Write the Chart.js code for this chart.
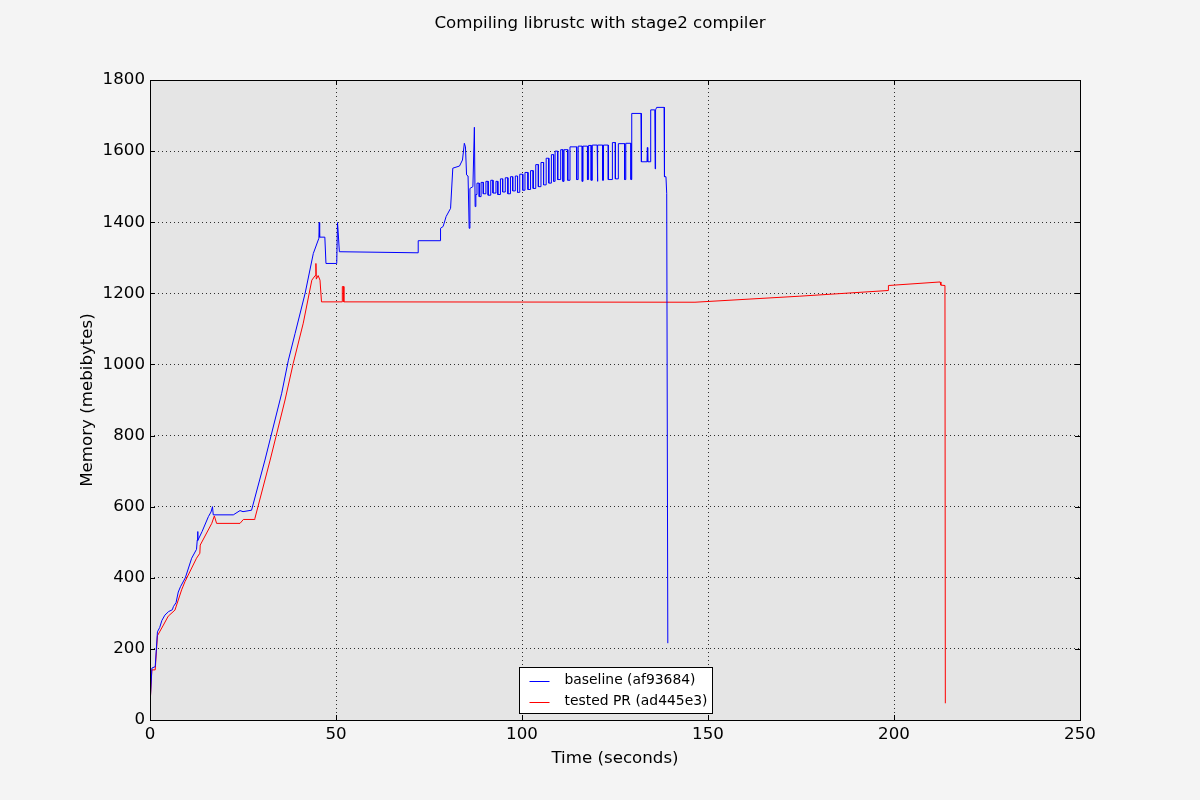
<!DOCTYPE html>
<html>
<head>
<meta charset="utf-8">
<script src="https://cdn.jsdelivr.net/npm/chart.js@4/dist/chart.umd.min.js"></script>
<style>
  html, body { margin: 0; padding: 0; background: #f4f4f4; }
  #wrap { width: 1200px; height: 800px; }
</style>
</head>
<body>
<div id="wrap"><canvas id="mem" width="1200" height="800"></canvas></div>
<script>
// Memory usage while compiling librustc
const chartTitle = 'Compiling librustc with stage2 compiler';
const xTitle = 'Time (seconds)';
const yTitle = 'Memory (mebibytes)';
const seriesNames = ['baseline (af93684)', 'tested PR (ad445e3)'];
const xTicks = [0, 50, 100, 150, 200, 250];
const yTicks = [0, 200, 400, 600, 800, 1000, 1200, 1400, 1600, 1800];

// baseline: time (s) / memory (MiB)
const baseTime = [
  0, 0.5, 1.4, 2.0, 2.6, 3.2, 4.0, 5.0, 6.0, 6.3, 7.0, 7.6, 8.2, 9.5, 11.2, 12.5, 12.7, 12.8, 12.9, 14.0,
  15.7, 16.4, 16.8, 17.0, 22.4, 24.2, 25.0, 27.3, 30.9, 35.4, 37.2, 39.0, 41.7, 43.9, 45.4, 45.5, 45.6, 47.0,
  47.3, 50.2, 50.4, 50.6, 50.9, 72.1, 72.1, 78.0, 78.1, 78.8, 79.6, 80.8, 81.4, 83.2, 84.0, 84.5, 84.8, 85.1,
  85.5, 85.8, 86.0, 86.8, 87.2, 87.4, 87.6,
  87.9, 87.9, 88.5, 88.5, 89.0, 89.0, 89.6, 89.6, 90.3, 90.3, 90.9, 90.9, 91.6, 91.6, 92.2, 92.2, 93.0, 93.0,
  93.5, 93.5, 94.2, 94.2, 94.8, 94.8, 95.5, 95.5, 96.2, 96.2, 96.9, 96.9, 97.5, 97.5, 98.2, 98.2, 98.8, 98.8,
  99.4, 99.4, 100.2, 100.2, 100.8, 100.8, 101.6, 101.6, 102.3, 102.3, 103.0, 103.0, 103.7, 103.7, 104.4, 104.4,
  105.1, 105.1, 105.8, 105.8, 106.5, 106.5, 107.2, 107.2, 107.9, 107.9, 108.5, 108.5, 108.9, 108.9, 109.6, 109.6,
  110.4, 110.4, 111.0, 111.0, 111.3, 111.3, 112.3, 112.3, 112.9, 112.9, 114.7, 114.7, 115.1, 115.1, 116.2, 116.2,
  116.4, 116.4, 117.6, 117.6, 117.9, 117.9, 118.6, 118.6, 118.9, 118.9, 120.2, 120.2, 120.4, 120.4, 121.7, 121.7,
  121.9, 121.9, 123.2, 123.2, 124.3, 124.3, 125.1, 125.1, 125.9, 125.9, 127.6, 127.6, 127.9, 127.9, 129.3, 129.3,
  129.5, 129.5, 132.0, 132.1, 133.6, 133.7, 133.8, 134.6, 134.6, 135.7, 135.8, 135.9, 136.2, 138.2, 138.3, 138.7,
  138.9, 139.2
];
const baseMem = [
  40, 146, 150, 248, 260, 280, 295, 305, 310, 319, 330, 360, 375, 400, 455, 480, 506, 530, 505, 530,
  572, 585, 600, 577, 577, 589, 586, 590, 731, 919, 1012, 1087, 1200, 1312, 1355, 1399, 1358, 1358,
  1284, 1284, 1399, 1370, 1317, 1314, 1348, 1348, 1383, 1388, 1416, 1439, 1552, 1558, 1575, 1622, 1612, 1533,
  1530, 1383, 1495, 1500, 1667, 1444, 1478,
  1478, 1510, 1510, 1472, 1472, 1512, 1512, 1480, 1480, 1515, 1515, 1476, 1476, 1518, 1518, 1482, 1482, 1515,
  1515, 1478, 1478, 1522, 1522, 1485, 1485, 1525, 1525, 1480, 1480, 1528, 1528, 1488, 1488, 1530, 1530, 1484,
  1484, 1535, 1535, 1490, 1490, 1540, 1540, 1492, 1492, 1545, 1545, 1495, 1495, 1562, 1562, 1500,
  1500, 1568, 1568, 1505, 1505, 1580, 1580, 1510, 1510, 1590, 1590, 1515, 1515, 1600, 1600, 1520,
  1520, 1604, 1604, 1515, 1515, 1604, 1604, 1518, 1518, 1612, 1612, 1520, 1520, 1614, 1614, 1515,
  1515, 1614, 1614, 1520, 1520, 1616, 1616, 1518, 1518, 1617, 1617, 1515, 1515, 1617, 1617, 1518,
  1518, 1617, 1617, 1520, 1520, 1624, 1624, 1522, 1522, 1621, 1621, 1520, 1520, 1622, 1622, 1520,
  1520, 1706, 1706, 1570, 1570, 1610, 1570, 1570, 1716, 1716, 1550, 1716, 1723, 1723, 1528, 1528,
  1481, 216
];

// tested PR: time (s) / memory (MiB)
const prTime = [
  0, 0.5, 1.4, 2.0, 3.6, 4.9, 6.7, 8.5, 9.4, 12.5, 13.4, 13.5, 16.6, 17.3, 17.9, 24.2, 25.1, 28.0, 28.2,
  32.3, 36.3, 38.5, 41.2, 43.5, 44.4, 44.6, 44.7, 45.2, 45.7, 46.1, 51.7, 51.7, 52.1, 52.1, 146.5, 174.7,
  198.5, 198.5, 212.4, 212.6, 213.7, 213.8
];
const prMem = [
  40, 141, 141, 237, 267, 292, 309, 366, 389, 455, 469, 492, 553, 574, 553, 553, 564, 564, 567,
  731, 900, 1003, 1116, 1237, 1250, 1284, 1240, 1250, 1237, 1176, 1176, 1219, 1219, 1176, 1175, 1192,
  1208, 1222, 1232, 1223, 1222, 47
];

const FONT = 'DejaVu Sans';
const FS = 16.67;

function toPoints(xs, ys) {
  return xs.map((x, i) => ({ x: x, y: ys[i] }));
}

// figure dressing: plot background, full frame, inward ticks, titles, legend
const mplLook = {
  id: 'mplLook',
  beforeDraw(chart) {
    const { ctx, chartArea: a } = chart;
    ctx.save();
    ctx.fillStyle = '#e5e5e5';
    ctx.fillRect(a.left, a.top, a.right - a.left, a.bottom - a.top);
    ctx.restore();
  },
  afterDraw(chart) {
    const { ctx, chartArea: a, scales } = chart;
    ctx.save();
    ctx.strokeStyle = '#000';
    ctx.lineWidth = 1;

    // inward tick marks on all four sides
    ctx.beginPath();
    xTicks.forEach(v => {
      const px = Math.round(scales.x.getPixelForValue(v)) + 0.5;
      ctx.moveTo(px, a.bottom); ctx.lineTo(px, a.bottom - 5);
      ctx.moveTo(px, a.top); ctx.lineTo(px, a.top + 5);
    });
    yTicks.forEach(v => {
      const py = Math.round(scales.y.getPixelForValue(v)) + 0.5;
      ctx.moveTo(a.left, py); ctx.lineTo(a.left + 5, py);
      ctx.moveTo(a.right, py); ctx.lineTo(a.right - 5, py);
    });
    ctx.stroke();

    // frame
    ctx.strokeRect(Math.round(a.left) + 0.5, Math.round(a.top) + 0.5,
      Math.round(a.right - a.left), Math.round(a.bottom - a.top));

    // titles (figure title is centred on the figure, axis labels on the axes)
    ctx.fillStyle = '#000';
    ctx.font = FS + 'px "' + FONT + '"';
    ctx.textAlign = 'center';
    ctx.textBaseline = 'middle';
    ctx.fillText(chartTitle, chart.width / 2, 24);
    ctx.fillText(xTitle, (a.left + a.right) / 2, 759);
    ctx.save();
    ctx.translate(88, (a.top + a.bottom) / 2);
    ctx.rotate(-Math.PI / 2);
    ctx.fillText(yTitle, 0, 0);
    ctx.restore();

    // legend, lower centre inside the axes
    ctx.font = '13.9px "' + FONT + '"';
    const ds = chart.data.datasets;
    const textW = Math.max(...ds.map(d => ctx.measureText(d.label).width));
    const boxW = Math.round(10 + 20 + 15 + textW + 5);
    const boxH = 46;
    const bx = Math.round((a.left + a.right) / 2 - boxW / 2) + 0.5;
    const by = Math.round(a.bottom - 7 - boxH) + 0.5;
    ctx.fillStyle = '#fff';
    ctx.fillRect(bx, by, boxW, boxH);
    ctx.strokeStyle = '#000';
    ctx.strokeRect(bx, by, boxW, boxH);
    ds.forEach((d, i) => {
      const ry = by + 13 + i * 21;
      ctx.strokeStyle = d.borderColor;
      ctx.beginPath();
      ctx.moveTo(bx + 10, Math.round(ry) + 0.5);
      ctx.lineTo(bx + 30, Math.round(ry) + 0.5);
      ctx.stroke();
      ctx.fillStyle = '#000';
      ctx.textAlign = 'left';
      ctx.fillText(d.label, bx + 45, ry);
    });
    ctx.restore();
  }
};

const gridOpts = { color: 'rgba(0,0,0,0.8)', lineWidth: 1, drawTicks: false };
const borderOpts = { display: false, dash: [1, 3] };

new Chart(document.getElementById('mem'), {
  type: 'line',
  data: {
    datasets: [
      { label: seriesNames[0], data: toPoints(baseTime, baseMem), borderColor: '#0000ff' },
      { label: seriesNames[1], data: toPoints(prTime, prMem), borderColor: '#ff0000' }
    ]
  },
  options: {
    responsive: false,
    animation: false,
    devicePixelRatio: 1,
    layout: { padding: { top: 80, right: 120, left: 0, bottom: 0 } },
    elements: {
      line: { borderWidth: 1, tension: 0, fill: false },
      point: { radius: 0, hoverRadius: 0 }
    },
    plugins: { legend: { display: false }, title: { display: false }, tooltip: { enabled: false } },
    scales: {
      x: {
        type: 'linear', min: 0, max: 250,
        afterFit: s => { s.height = 80; },
        afterBuildTicks: s => { s.ticks = xTicks.map(v => ({ value: v })); },
        border: borderOpts,
        grid: gridOpts,
        ticks: { padding: 5, color: '#000', font: { family: FONT, size: FS }, maxRotation: 0,
                 callback: v => String(v) }
      },
      y: {
        type: 'linear', min: 0, max: 1800,
        afterFit: s => { s.width = 150; },
        afterBuildTicks: s => { s.ticks = yTicks.map(v => ({ value: v })); },
        border: borderOpts,
        grid: gridOpts,
        ticks: { padding: 5, color: '#000', font: { family: FONT, size: FS },
                 callback: v => String(v) }
      }
    }
  },
  plugins: [mplLook]
});
</script>
</body>
</html>
